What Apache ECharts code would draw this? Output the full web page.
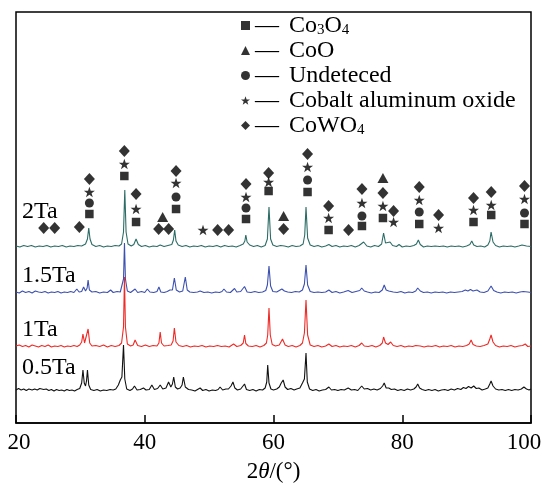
<!DOCTYPE html>
<html>
<head>
<meta charset="UTF-8">
<title>XRD</title>
<style>
  * { margin: 0; padding: 0; }
  body { background: #fff; }
  #main { width: 542px; height: 487px; }
</style>
<script src="https://cdn.jsdelivr.net/npm/echarts@6/dist/echarts.min.js"></script>
</head>
<body>
<div id="main"></div>
<script>
// 2θ tick labels
const xTicks = [20, 40, 60, 80, 100];

// traces: [2θ, intensity above own baseline]
const trace2Ta = [[20,1],[20.6,0],[21.2,1.5],[21.8,0.5],[22.4,1.5],[23,0],[23.6,1],[24.2,0.5],[24.8,1.5],[25.4,0],[26,1],[26.6,0.5],[27.2,1.5],[27.8,0],[28.4,1],[29,0.5],[29.6,1.5],[30.2,1],[30.8,3],[31.1,8],[31.3,19],[31.5,8],[31.8,2.5],[32.4,0.5],[33,1.5],[33.6,0],[34.2,1],[34.8,0.5],[35.4,1.5],[36,1],[36.4,3],[36.7,15],[36.9,57],[37.1,15],[37.4,3],[37.9,1],[38.3,2.5],[38.65,8],[39,2.5],[39.5,0.5],[40.1,1.5],[40.7,0],[41.3,1],[41.9,0.5],[42.4,2],[43,0.5],[43.6,1.5],[44.2,2.5],[44.45,7],[44.65,17],[44.85,6],[45.2,2],[45.8,0.5],[46.4,1.5],[47,0],[47.6,1],[48.2,0.5],[48.8,1.5],[49.4,0],[50,1],[50.6,0.5],[51.2,1.5],[51.8,0],[52.4,1.5],[53,0.5],[53.6,1],[54.2,0],[54.8,1.5],[55.3,3],[55.55,6],[55.7,12],[55.9,5],[56.3,2],[56.9,0.5],[57.5,1.5],[58.1,0],[58.7,1.5],[59.05,8],[59.3,40],[59.55,8],[59.9,2],[60.5,0.5],[61.1,1.5],[61.7,1],[62.3,0],[62.9,1.5],[63.5,0.5],[64.1,1],[64.6,3],[64.85,12],[65.05,40],[65.3,9],[65.7,2],[66.3,0.5],[66.9,1.5],[67.5,0],[68.1,1],[68.6,2.5],[69.1,0.5],[69.7,1.5],[70.3,0],[70.9,1],[71.5,0.5],[72.1,1.5],[72.7,0],[73.3,1.5],[74,5],[74.5,1],[75.1,0],[75.7,1.5],[76.3,0.5],[76.8,3],[77.1,14],[77.4,4],[77.7,2],[78.1,5],[78.5,1.5],[79.1,0.5],[79.5,2.5],[80,0],[80.6,1],[81.2,0.5],[81.8,1.5],[82.2,3],[82.5,7],[82.8,2.5],[83.3,0],[83.9,1],[84.5,0.5],[85.1,1],[85.4,3],[85.8,0.5],[86.4,1],[87,0],[87.6,1],[88.2,0.5],[88.8,1],[89.4,0],[90,1],[90.5,2.5],[90.8,6],[91.1,2],[91.6,0.5],[92.2,1],[92.8,0],[93.3,2],[93.6,6],[93.8,15],[94.1,5],[94.5,1.5],[95.1,0],[95.7,1],[96.3,0.5],[96.9,1],[97.5,0],[98.1,1],[98.6,2],[98.9,4],[99.3,1],[100,0.5]];

const trace15Ta = [[20,1],[20.5,0],[21,2],[21.5,0.5],[22,1.5],[22.5,0],[23,2],[23.5,1],[24,0.5],[24.5,1.5],[25,0],[25.5,1],[26,0.5],[26.5,1.5],[27,0],[27.5,1],[28,0.5],[28.5,1.5],[29,0.5],[29.45,4],[29.8,1],[30.2,1.5],[30.5,6],[30.8,2],[31.05,5],[31.2,13],[31.4,3],[31.8,1],[32.4,1.5],[33,0],[33.6,1],[34.2,0.5],[34.7,3],[35.1,0.5],[35.7,1.5],[36.2,1],[36.5,3],[36.7,14],[36.85,50],[37,14],[37.3,2],[37.8,0.5],[38.5,4],[38.9,0.5],[39.5,1.5],[40,0.5],[40.4,4],[40.8,1],[41.4,0.5],[41.9,1.5],[42.2,6],[42.5,1],[43,0.5],[43.5,1.5],[43.9,3],[44.3,3],[44.6,15],[44.9,3],[45.4,1],[45.9,2],[46.3,16],[46.6,3],[47,1],[47.6,0.5],[48.2,1],[48.6,2],[49.2,0.5],[49.8,1],[50.4,0],[51,1],[51.6,0.5],[52,1.5],[52.3,4],[52.7,1],[53.3,0.5],[53.6,2],[53.95,4.5],[54.3,1],[54.9,1.5],[55.5,6.5],[55.9,1],[56.5,0.5],[57.1,1.5],[57.7,0.5],[58.3,1],[58.8,2.5],[59.05,8],[59.3,27],[59.55,7],[59.9,1.5],[60.5,1],[60.9,2.5],[61.3,4],[61.7,2],[62.2,1],[62.8,0.5],[63.4,1.5],[64,1],[64.5,3],[64.8,9],[65.05,28],[65.3,8],[65.7,1.5],[66.3,0.5],[66.9,1],[67.5,0.5],[68.1,1],[68.6,3],[69.1,0.5],[69.7,1.5],[70.3,0],[70.9,1],[71.6,2.5],[72.2,0.5],[72.8,1.5],[73.4,2.5],[73.7,5],[74.1,2],[74.6,1],[75.2,0],[75.8,1],[76.4,0.5],[76.9,3],[77.2,8],[77.5,3],[77.9,2],[78.2,4],[78.6,1],[79.2,0.5],[79.8,1.5],[80.4,0],[81,1],[81.6,0.5],[82.1,2],[82.4,5],[82.8,2],[83.3,0.5],[83.9,1],[84.5,0],[85.1,1],[85.7,0.5],[86.3,1],[86.9,0],[87.5,1],[88.1,0.5],[88.7,1],[89.3,1.5],[89.8,3],[90.2,2],[90.6,3.5],[91,2],[91.6,3],[92.1,1],[92.7,0.5],[93.3,2],[93.8,7],[94.2,2.5],[94.7,1],[95.3,0],[95.9,1],[96.5,0.5],[97.1,1],[97.7,0],[98.3,1],[98.8,1.5],[99.1,3.5],[99.5,1],[100,0.5]];

const trace1Ta = [[20,1],[20.5,2],[21,0.5],[21.5,1.5],[22,0],[22.5,2],[23,1],[23.5,0],[24,1.5],[24.5,0.5],[25,2],[25.5,0],[26,1],[26.5,0.5],[27,1.5],[27.5,0],[28,1],[28.5,0.5],[29,1.5],[29.5,0.5],[29.9,2],[30.2,5],[30.4,13],[30.65,4],[30.95,6],[31.2,18],[31.45,4],[31.8,1],[32.4,1.5],[33,0.5],[33.6,2],[34.2,0],[34.8,1.5],[35.4,0.5],[36,1.5],[36.4,4],[36.7,20],[36.85,70],[37,20],[37.3,3],[37.8,1],[38.2,2],[38.5,7],[38.9,1.5],[39.5,0.5],[40.1,2],[40.7,0.5],[41.3,1.5],[41.9,1],[42.2,4],[42.4,15],[42.6,4],[43,1],[43.6,1.5],[44.1,2],[44.4,6],[44.6,19],[44.85,5],[45.3,1.5],[45.9,0.5],[46.5,1.5],[47.1,0],[47.7,1],[48.3,0.5],[48.9,1.5],[49.5,0],[50.1,1],[50.7,0.5],[51.3,1.5],[51.9,0.5],[52.5,1],[53.1,0],[53.8,3],[54.3,0.5],[54.9,1.5],[55.3,4],[55.5,12],[55.7,3.5],[56.1,1],[56.7,0.5],[57.3,1.5],[57.9,0],[58.5,1.5],[58.9,4],[59.1,12],[59.3,39],[59.5,12],[59.8,2.5],[60.3,1],[60.9,2],[61.4,8],[61.8,2],[62.3,0.5],[62.9,1.5],[63.5,0],[64.1,1.5],[64.5,4],[64.8,14],[65.05,47],[65.3,12],[65.7,2],[66.3,0.5],[66.9,1.5],[67.5,0],[68.1,1],[68.6,3],[69.1,0.5],[69.7,1.5],[70.3,0],[70.9,1],[71.5,0.5],[72.1,1.5],[72.7,0],[73.3,1.5],[73.7,4],[74.1,1],[74.7,0.5],[75.3,1.5],[75.9,0],[76.5,1.5],[76.9,4],[77.1,10],[77.4,4],[77.8,2.5],[78.2,5],[78.6,1.5],[79.2,0.5],[79.8,1.5],[80.4,0],[81,1],[81.6,0.5],[82.1,1.5],[82.4,3],[82.8,1],[83.4,0],[84,1],[84.6,0.5],[85.2,1.5],[85.8,0],[86.4,1],[87,0.5],[87.6,1.5],[88.2,0],[88.8,1],[89.4,0.5],[90,1.5],[90.4,3],[90.7,7],[91,2.5],[91.5,1],[92.1,0.5],[92.7,1.5],[93.3,3],[93.6,8],[93.8,12],[94.1,5],[94.5,1.5],[95.1,0],[95.7,1],[96.3,0.5],[96.9,1.5],[97.5,0],[98.1,1],[98.7,1.5],[99.1,3],[99.5,0.5],[100,1]];

const trace05Ta = [[20,1],[20.4,2.5],[20.8,1],[21.2,2],[21.6,0.5],[22,2],[22.2,3.5],[22.5,1],[22.9,2],[23.3,1],[23.7,2.5],[24,4],[24.3,1.5],[24.7,2],[25.1,0.5],[25.5,1.5],[25.9,0],[26.3,1.5],[26.7,0.5],[27.1,1],[27.5,0],[27.9,1.5],[28.3,0.5],[28.7,1],[29.1,0],[29.5,1.5],[29.9,2.5],[30.2,8],[30.4,21],[30.6,8],[30.8,5],[30.95,10],[31.1,21],[31.3,6],[31.6,1.5],[32.1,0.5],[32.6,1.5],[33.1,0],[33.6,1],[34.1,0.5],[34.6,1.5],[35.1,1],[35.5,2],[35.9,6],[36.2,11],[36.45,14],[36.7,46],[36.9,12],[37.2,2],[37.7,0.5],[38.1,2],[38.4,5],[38.8,1],[39.3,1.5],[39.8,3],[40.2,1],[40.7,1.5],[41.1,6],[41.5,1.5],[42,2.5],[42.4,6],[42.8,2],[43.3,3],[43.7,9],[44.05,4],[44.3,7],[44.5,14],[44.75,4],[45.1,2],[45.5,3],[45.8,6],[46,14],[46.3,4],[46.8,1.5],[47.3,1],[47.8,0],[48.2,1.5],[48.6,3],[49,0.5],[49.5,1.5],[50,0],[50.5,1],[51,0.5],[51.4,1.5],[51.7,4],[52.1,1],[52.6,2],[53,2],[53.4,5],[53.7,9],[54,3],[54.4,1],[54.9,2],[55.2,3],[55.5,7],[55.8,1.5],[56.3,0.5],[56.8,1.5],[57.3,0],[57.8,1.5],[58.3,1],[58.7,3],[58.95,9],[59.1,26],[59.3,8],[59.6,2],[60,1],[60.5,2],[60.9,4],[61.2,8],[61.5,11],[61.8,4],[62.2,1.5],[62.7,2.5],[63.2,1],[63.6,2],[64.1,3],[64.5,8],[64.8,12],[65.05,38],[65.25,9],[65.6,2],[66.1,0.5],[66.6,1.5],[67.1,0],[67.6,1],[68.1,1.5],[68.6,4],[69,1],[69.5,1.5],[70,0.5],[70.5,1.5],[71,1],[71.6,3],[72.1,1],[72.6,1.5],[73.1,0.5],[73.4,2],[73.7,5],[74.1,2],[74.6,2.5],[75.1,1],[75.6,2],[76.1,1],[76.6,2.5],[76.95,5],[77.2,8],[77.5,3],[77.9,3],[78.3,1.5],[78.8,2],[79.3,0.5],[79.8,1.5],[80.3,0.5],[80.8,2],[81.3,1],[81.8,2],[82.15,4],[82.4,7],[82.7,3],[83.1,1.5],[83.6,0.5],[84.1,1.5],[84.6,0.5],[85.1,1.5],[85.6,0],[86.1,1],[86.6,1.5],[87.1,0.5],[87.6,2],[88.1,1],[88.6,2.5],[89.1,1.5],[89.5,3.5],[89.9,2.5],[90.3,4.5],[90.7,3],[91.1,5],[91.5,2.5],[91.9,3],[92.4,1],[92.9,2],[93.3,3],[93.6,7],[93.8,10],[94.1,5],[94.5,2],[95,1],[95.5,1.5],[96,0.5],[96.5,1.5],[97,0.5],[97.5,1.5],[98,1],[98.5,2],[98.9,4],[99.3,2],[99.7,1],[100,2]];

// phase marks above the 2Ta pattern: [2θ, height on the plot scale]
const marksCo3O4 = [[31.40,209],[36.83,247],[38.65,201],[44.86,214],[55.73,204],[59.24,232],[65.29,231],[68.56,193],[73.74,197],[77.00,205],[82.64,199],[91.07,201],[93.82,208],[98.99,199]];
const marksCoO = [[42.78,206],[61.57,207],[77.00,245]];
const marksUndet = [[31.40,220],[44.86,226],[55.73,215],[65.29,243],[73.74,207],[82.64,211],[98.99,210]];
const marksCoAlO = [[31.40,231],[36.83,259],[38.65,214],[44.86,240],[49.05,193],[55.73,226],[59.24,241],[65.29,256],[68.56,205],[73.74,220],[77.00,217],[78.65,201],[82.64,223],[85.64,195],[91.07,213],[93.82,218],[98.99,224]];
const marksCoWO4 = [[24.30,195],[26.01,195],[29.84,196],[31.40,244],[36.83,272],[38.65,229],[42.16,194],[43.71,194],[44.86,252],[51.32,193],[53.03,193],[55.73,239],[59.24,250],[61.57,194],[65.29,269],[68.56,217],[71.66,193],[73.74,234],[77.00,230],[78.65,212],[82.64,236],[85.64,208],[91.07,225],[93.82,231],[98.99,237]];

const sampleNames = ['2Ta', '1.5Ta', '1Ta', '0.5Ta'];
const phaseNames = ['Co3O4', 'CoO', 'Undeteced', 'Cobalt aluminum oxide', 'CoWO4'];

const FONT = '"Liberation Serif", "Times New Roman", serif';
const starPath = 'path://M12,0 L14.82,8.12 L23.41,8.29 L16.56,13.48 L19.05,21.71 L12,16.8 L4.95,21.71 L7.44,13.48 L0.59,8.29 L9.18,8.12 Z';

// vertical offsets of the stacked patterns
const stackOffset = { '2Ta': 176, '1.5Ta': 130, '1Ta': 76, '0.5Ta': 32 };
const traceColor = { '2Ta': '#2c6c66', '1.5Ta': '#3c50b0', '1Ta': '#ee2a26', '0.5Ta': '#111111' };
const traces = { '2Ta': trace2Ta, '1.5Ta': trace15Ta, '1Ta': trace1Ta, '0.5Ta': trace05Ta };

function shift(arr, off) {
    return arr.map(p => [p[0], p[1] + off]);
}

const chart = echarts.init(document.getElementById('main'));

const lineSeries = sampleNames.map(n => ({
    name: n,
    type: 'line',
    data: shift(traces[n], stackOffset[n]),
    showSymbol: false,
    lineStyle: { color: traceColor[n], width: 1.1 },
    itemStyle: { color: traceColor[n] },
    animation: false,
    silent: true,
    z: 2
}));

const markDefs = [
    { name: 'Co3O4', data: marksCo3O4, symbol: 'rect', size: 8.5 },
    { name: 'CoO', data: marksCoO, symbol: 'triangle', size: [11, 10] },
    { name: 'Undeteced', data: marksUndet, symbol: 'circle', size: 9 },
    { name: 'Cobalt aluminum oxide', data: marksCoAlO, symbol: starPath, size: 11 },
    { name: 'CoWO4', data: marksCoWO4, symbol: 'diamond', size: [11, 12] }
];

const markSeries = markDefs.map(d => ({
    name: d.name,
    type: 'scatter',
    data: d.data,
    symbol: d.symbol,
    symbolSize: d.size,
    symbolKeepAspect: true,
    itemStyle: { color: '#000' },
    animation: false,
    z: 3
}));

const legendText = {
    'Co3O4': '{d|—}{t|Co}{s|3}{t|O}{s|4}',
    'CoO': '{d|—}{t|CoO}',
    'Undeteced': '{d|—}{t|Undeteced}',
    'Cobalt aluminum oxide': '{d|—}{t|Cobalt aluminum oxide}',
    'CoWO4': '{d|—}{t|CoWO}{s|4}'
};

const option = {
    backgroundColor: '#fff',
    animation: false,
    grid: {
        left: 16, right: 11, top: 12, bottom: 64,
        outerBoundsMode: 'none',
        containLabel: false,
        show: true,
        borderColor: '#000',
        borderWidth: 1.5
    },
    legend: {
        data: phaseNames,
        orient: 'vertical',
        left: 241,
        top: 13,
        padding: 0,
        itemGap: 0,
        itemWidth: 9,
        itemHeight: 9,
        selectedMode: false,
        formatter: name => legendText[name],
        textStyle: {
            fontFamily: FONT,
            fontSize: 24,
            color: '#000',
            lineHeight: 25,
            rich: {
                d: { fontFamily: FONT, fontSize: 24, width: 34, lineHeight: 25, color: '#000' },
                t: { fontFamily: FONT, fontSize: 24, lineHeight: 25, color: '#000' },
                s: { fontFamily: FONT, fontSize: 15, lineHeight: 25, color: '#000', padding: [9, 0, 0, 0] }
            }
        }
    },
    xAxis: {
        type: 'value',
        min: xTicks[0],
        max: xTicks[xTicks.length - 1],
        interval: 20,
        name: '2{i|θ}/(°)',
        nameLocation: 'middle',
        nameGap: 37,
        nameTextStyle: {
            fontFamily: FONT,
            fontSize: 23,
            color: '#000',
            rich: {
                i: { fontFamily: FONT, fontSize: 23, fontStyle: 'italic', color: '#000' }
            }
        },
        axisLine: { lineStyle: { color: '#000', width: 1.5 } },
        axisTick: { inside: true, length: 8, lineStyle: { color: '#000', width: 1.5 } },
        axisLabel: {
            fontFamily: FONT, fontSize: 23, color: '#000', margin: 8,
            // first and last labels sit slightly inside the frame
            formatter: v => v === xTicks[0] ? '{l|' + v + '}' : (v === xTicks[xTicks.length - 1] ? '{r|' + v + '}' : String(v)),
            rich: {
                l: { fontFamily: FONT, fontSize: 23, color: '#000', padding: [0, 0, 0, 6] },
                r: { fontFamily: FONT, fontSize: 23, color: '#000', padding: [0, 14, 0, 0] }
            }
        },
        splitLine: { show: false }
    },
    yAxis: {
        type: 'value',
        min: 0,
        max: 411,
        show: false,
        splitLine: { show: false }
    },
    graphic: [
        { type: 'text', left: 22, top: 200, style: { text: '2Ta', font: '24px ' + FONT, fill: '#000' } },
        { type: 'text', left: 22, top: 264, style: { text: '1.5Ta', font: '24px ' + FONT, fill: '#000' } },
        { type: 'text', left: 22, top: 318, style: { text: '1Ta', font: '24px ' + FONT, fill: '#000' } },
        { type: 'text', left: 22, top: 356, style: { text: '0.5Ta', font: '24px ' + FONT, fill: '#000' } }
    ],
    series: lineSeries.concat(markSeries)
};

chart.setOption(option);
</script>
</body>
</html>
